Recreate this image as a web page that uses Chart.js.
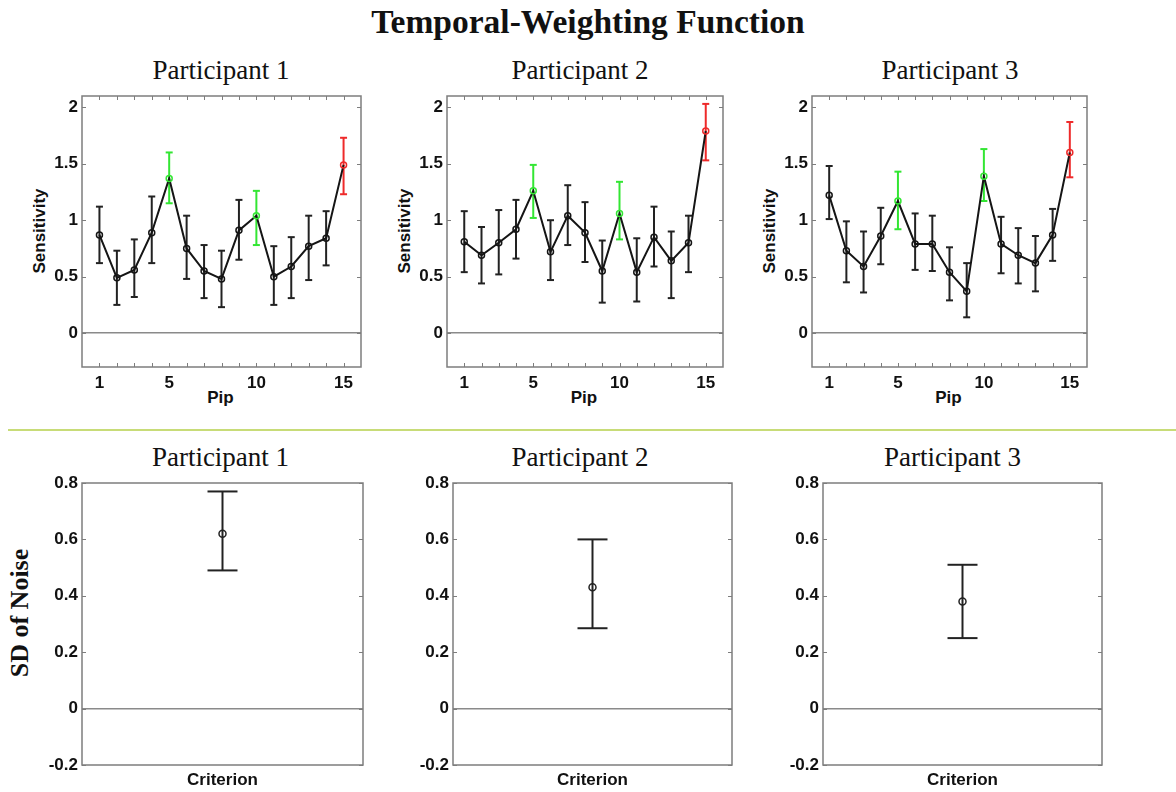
<!DOCTYPE html>
<html>
<head>
<meta charset="utf-8">
<script src="https://cdn.jsdelivr.net/npm/chart.js@4/dist/chart.umd.min.js"></script>
<style>
  html, body { margin:0; padding:0; background:#fff; }
  body { width:1176px; height:792px; position:relative; overflow:hidden; }
  .t { position:absolute; white-space:nowrap; line-height:1; color:#111; }
  .serif { font-family:'Liberation Serif', serif; }
  .sans { font-family:'Liberation Sans', Arial, sans-serif; font-weight:bold; }
  canvas { position:absolute; }
</style>
</head>
<body>
<script>
// ---------------- DATA ----------------
const pips = [1,2,3,4,5,6,7,8,9,10,11,12,13,14,15];
const topXTickLabels = [1, 5, 10, 15];
const topYTicks = [0, 0.5, 1, 1.5, 2];
const topYTickLabels = ['0', '0.5', '1', '1.5', '2'];
const greenPips = [5, 10];
const redPips = [15];

const p1Sens = [0.87,0.49,0.56,0.89,1.37,0.75,0.55,0.48,0.91,1.04,0.50,0.59,0.77,0.84,1.49];
const p1Lo   = [0.62,0.25,0.32,0.62,1.15,0.48,0.31,0.23,0.65,0.78,0.25,0.31,0.47,0.60,1.23];
const p1Hi   = [1.12,0.73,0.83,1.21,1.60,1.04,0.78,0.73,1.18,1.26,0.77,0.85,1.04,1.08,1.73];

const p2Sens = [0.81,0.69,0.80,0.92,1.26,0.72,1.04,0.89,0.55,1.06,0.54,0.85,0.64,0.80,1.79];
const p2Lo   = [0.54,0.44,0.52,0.66,1.02,0.47,0.78,0.63,0.27,0.83,0.28,0.59,0.31,0.54,1.53];
const p2Hi   = [1.08,0.94,1.09,1.18,1.49,1.00,1.31,1.16,0.82,1.34,0.84,1.12,0.90,1.04,2.03];

const p3Sens = [1.22,0.73,0.59,0.86,1.17,0.79,0.79,0.54,0.37,1.39,0.79,0.69,0.62,0.87,1.60];
const p3Lo   = [1.01,0.45,0.36,0.61,0.92,0.56,0.55,0.29,0.14,1.17,0.53,0.44,0.37,0.64,1.38];
const p3Hi   = [1.48,0.99,0.90,1.11,1.43,1.06,1.04,0.76,0.62,1.63,1.03,0.93,0.86,1.10,1.87];

const conditions = ['Criterion'];
const sdNoise   = [0.62, 0.43, 0.38];
const sdNoiseLo = [0.49, 0.285, 0.25];
const sdNoiseHi = [0.77, 0.60, 0.51];
const bottomYTicks = [-0.2, 0, 0.2, 0.4, 0.6, 0.8];
const bottomYTickLabels = ['-0.2', '0', '0.2', '0.4', '0.6', '0.8'];

const participants = ['Participant 1', 'Participant 2', 'Participant 3'];
const mainTitle = 'Temporal-Weighting Function';
const topYTitle = 'Sensitivity';
const topXTitle = 'Pip';
const bottomYTitle = 'SD of Noise';

// ---------------- STYLE / LAYOUT ----------------
const GREEN = '#33e633', RED = '#ee2a2a', BLACK = '#151515';
const tickFont = { family: 'Liberation Sans', weight: 'bold', size: 17 };
const topPlots = [ {l:82, r:361}, {l:447, r:723}, {l:812, r:1087} ];
const topY = { t:96, b:367 };
const botPlots = [ {l:82, r:363}, {l:453, r:732}, {l:823, r:1102} ];
const botY = { t:483, b:765 };
const PADL = 60, PADT = 20, PADR = 20, PADB = 40;

function colorFor(p) {
  if (greenPips.includes(p)) return GREEN;
  if (redPips.includes(p)) return RED;
  return BLACK;
}

function addText(txt, cls, css) {
  const d = document.createElement('div');
  d.className = 't ' + cls;
  d.textContent = txt;
  Object.assign(d.style, css);
  document.body.appendChild(d);
  return d;
}

const framePlugin = {
  id: 'frame',
  afterDraw(chart, args, opts) {
    const { ctx, chartArea: a, scales } = chart;
    ctx.save();
    ctx.strokeStyle = '#7d7d7d';
    ctx.lineWidth = 1.5;
    ctx.strokeRect(a.left, a.top, a.right - a.left, a.bottom - a.top);
    ctx.lineWidth = 1;
    const t = 4;
    ctx.beginPath();
    scales.y.ticks.forEach(tk => {
      const y = Math.round(scales.y.getPixelForValue(tk.value)) + 0.5;
      ctx.moveTo(a.left, y); ctx.lineTo(a.left + t, y);
      ctx.moveTo(a.right, y); ctx.lineTo(a.right - t, y);
    });
    if (opts.xTicks) {
      scales.x.ticks.forEach(tk => {
        const x = Math.round(scales.x.getPixelForValue(tk.value)) + 0.5;
        ctx.moveTo(x, a.top); ctx.lineTo(x, a.top + t);
        ctx.moveTo(x, a.bottom); ctx.lineTo(x, a.bottom - t);
      });
    }
    ctx.stroke();
    ctx.restore();
  }
};

function makeCanvas(plot, yr) {
  const c = document.createElement('canvas');
  const w = (plot.r - plot.l) + PADL + PADR;
  const h = (yr.b - yr.t) + PADT + PADB;
  c.width = w; c.height = h;
  c.style.left = (plot.l - PADL) + 'px';
  c.style.top = (yr.t - PADT) + 'px';
  c.style.width = w + 'px'; c.style.height = h + 'px';
  document.body.appendChild(c);
  return c;
}

function baseOptions(xCfg, yCfg, xTicksFrame) {
  return {
    responsive: false, animation: false, events: [],
    layout: { padding: { top: PADT, right: PADR, left: 0, bottom: 0 } },
    plugins: { legend: { display: false }, tooltip: { enabled: false }, frame: { xTicks: xTicksFrame } },
    scales: {
      x: Object.assign({
        type: 'linear',
        afterFit(s) { s.height = PADB; },
        grid: { display: false, drawTicks: false },
        border: { display: false },
      }, xCfg),
      y: Object.assign({
        type: 'linear',
        afterFit(s) { s.width = PADL; },
        grid: {
          drawTicks: false,
          lineWidth: 1.5,
          color: ctx => (ctx.tick && ctx.tick.value === 0) ? '#8a8a8a' : 'rgba(0,0,0,0)'
        },
        border: { display: false },
      }, yCfg)
    }
  };
}

function topChart(idx, sens, lo, hi) {
  const c = makeCanvas(topPlots[idx], topY);
  const datasets = [{
    type: 'line',
    data: pips.map((p, i) => ({ x: p, y: sens[i] })),
    borderColor: BLACK, borderWidth: 2,
    pointRadius: 3, pointBorderWidth: 1.5,
    pointBorderColor: pips.map(colorFor),
    pointBackgroundColor: 'rgba(0,0,0,0)',
    order: 0
  }];
  pips.forEach((p, i) => {
    const col = colorFor(p) === BLACK ? '#222' : colorFor(p);
    datasets.push({
      type: 'line',
      data: [{ x: p, y: lo[i] }, { x: p, y: hi[i] }],
      borderColor: col, borderWidth: 2,
      pointStyle: 'line', pointRadius: 3.5, pointBorderWidth: 2,
      pointBorderColor: col, order: 1
    });
  });
  const opts = baseOptions(
    {
      min: 0, max: 16,
      afterBuildTicks(s) { s.ticks = pips.map(v => ({ value: v })); },
      ticks: {
        autoSkip: false, maxRotation: 0, padding: 6, color: '#111', font: tickFont,
        callback: v => topXTickLabels.includes(v) ? String(v) : ''
      }
    },
    {
      min: -0.3, max: 2.1,
      afterBuildTicks(s) { s.ticks = topYTicks.map(v => ({ value: v })); },
      ticks: {
        padding: 4, color: '#111', font: tickFont,
        callback: (v, i) => topYTickLabels[topYTicks.indexOf(v)] ?? ''
      }
    },
    true
  );
  new Chart(c, { type: 'line', data: { datasets }, options: opts, plugins: [framePlugin] });
}

function bottomChart(idx) {
  const c = makeCanvas(botPlots[idx], botY);
  const datasets = [
    {
      type: 'line',
      data: [{ x: 1, y: sdNoise[idx] }],
      borderColor: '#222', pointRadius: 3.5, pointBorderWidth: 1.5,
      pointBorderColor: '#222', pointBackgroundColor: 'rgba(0,0,0,0)', order: 0
    },
    {
      type: 'line',
      data: [{ x: 1, y: sdNoiseLo[idx] }, { x: 1, y: sdNoiseHi[idx] }],
      borderColor: '#222', borderWidth: 2,
      pointStyle: 'line', pointRadius: 15, pointBorderWidth: 2,
      pointBorderColor: '#222', order: 1
    }
  ];
  const opts = baseOptions(
    {
      min: 0, max: 2,
      afterBuildTicks(s) { s.ticks = conditions.map((_, i) => ({ value: i + 1 })); },
      ticks: {
        autoSkip: false, maxRotation: 0, padding: 5, color: '#111', font: tickFont,
        callback: v => conditions[v - 1] ?? ''
      }
    },
    {
      min: -0.2, max: 0.8,
      afterBuildTicks(s) { s.ticks = bottomYTicks.map(v => ({ value: v })); },
      ticks: {
        padding: 4, color: '#111', font: tickFont,
        callback: v => {
          const k = bottomYTicks.findIndex(t => Math.abs(t - v) < 1e-9);
          return k >= 0 ? bottomYTickLabels[k] : '';
        }
      }
    },
    false
  );
  new Chart(c, { type: 'line', data: { datasets }, options: opts, plugins: [framePlugin] });
}

// ---------------- TEXT ----------------
addText(mainTitle, 'serif', { fontWeight: 'bold', fontSize: '33.5px', left: '588px', top: '5px', transform: 'translateX(-50%)' });
const topTitleX = [221, 580, 950];
const botTitleX = [220.5, 580, 952.5];
participants.forEach((p, i) => {
  addText(p, 'serif', { fontSize: '27px', left: topTitleX[i] + 'px', top: '57.4px', transform: 'translateX(-50%)' });
  addText(p, 'serif', { fontSize: '27px', left: botTitleX[i] + 'px', top: '444px', transform: 'translateX(-50%)' });
});
topPlots.forEach((pl, i) => {
  addText(topYTitle, 'sans', { fontSize: '17px', left: (pl.l - 43) + 'px', top: '231px', transform: 'translate(-50%,-50%) rotate(-90deg)' });
  addText(topXTitle, 'sans', { fontSize: '17px', left: ((pl.l + pl.r) / 2 - 1) + 'px', top: '388.6px', transform: 'translateX(-50%)' });
});
addText(bottomYTitle, 'serif', { fontWeight: 'bold', fontSize: '26px', left: '20px', top: '613px', transform: 'translate(-50%,-50%) rotate(-90deg)' });

const sep = document.createElement('div');
Object.assign(sep.style, { position: 'absolute', left: '8px', top: '429px', width: '1168px', height: '2px', background: '#c8dc78' });
document.body.appendChild(sep);

// ---------------- CHARTS ----------------
topChart(0, p1Sens, p1Lo, p1Hi);
topChart(1, p2Sens, p2Lo, p2Hi);
topChart(2, p3Sens, p3Lo, p3Hi);
bottomChart(0);
bottomChart(1);
bottomChart(2);
</script>
</body>
</html>
